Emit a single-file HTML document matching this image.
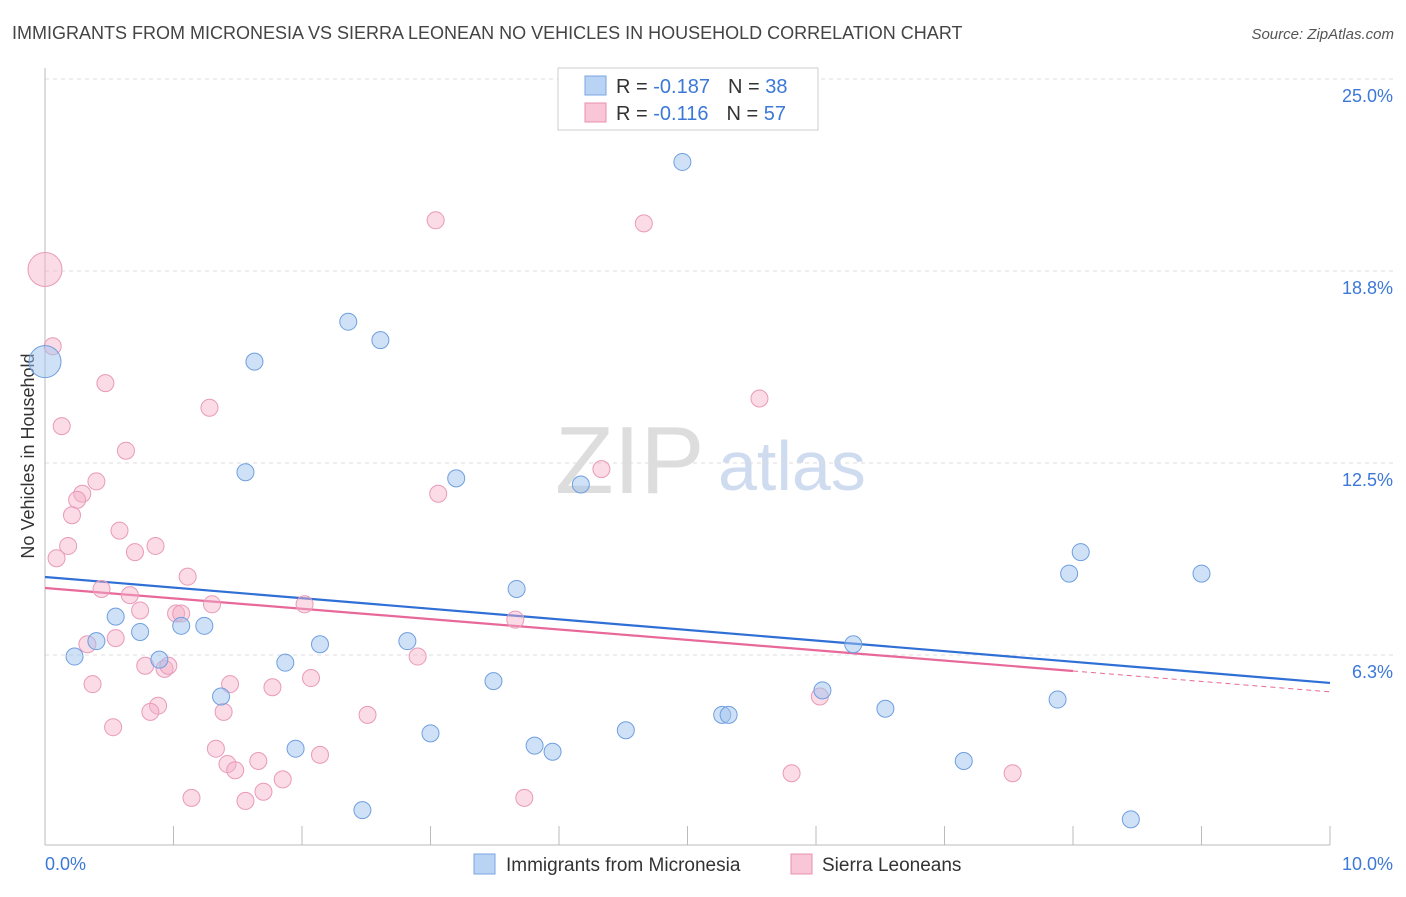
<!DOCTYPE html>
<html><head><meta charset="utf-8"><style>
body{margin:0;background:#fff;font-family:"Liberation Sans",sans-serif;}
svg text{font-family:"Liberation Sans",sans-serif;}
</style></head><body>
<svg id="chart" width="1406" height="892" xmlns="http://www.w3.org/2000/svg">
<text x="12" y="39" font-size="18" fill="#444">IMMIGRANTS FROM MICRONESIA VS SIERRA LEONEAN NO VEHICLES IN HOUSEHOLD CORRELATION CHART</text>
<text x="1394" y="39" font-size="15" fill="#555" font-style="italic" text-anchor="end">Source: ZipAtlas.com</text>
<text x="34" y="456" font-size="18" fill="#333" text-anchor="middle" transform="rotate(-90 34 456)">No Vehicles in Household</text>
<text x="555" y="493" font-size="96" fill="#ddd" font-family="Liberation Serif">ZIP</text>
<text x="718" y="490" font-size="70" fill="#cfdcf0">atlas</text>
<g id="grid"></g><g id="axes"></g><g id="trends"></g><g id="pts"></g>
<g>
<rect x="558" y="68" width="260" height="62" fill="#fff" stroke="#ccc"/>
<rect x="585" y="76" width="21" height="19" fill="#b9d3f5" stroke="#7aa6e0"/>
<text x="616" y="93" font-size="20" fill="#333">R = <tspan fill="#3b78d8">-0.187</tspan><tspan dx="18">N = </tspan><tspan fill="#3b78d8">38</tspan></text>
<rect x="585" y="103" width="21" height="19" fill="#f8c6d6" stroke="#e890b0"/>
<text x="616" y="120" font-size="20" fill="#333">R = <tspan fill="#3b78d8"> -0.116</tspan><tspan dx="18">N = </tspan><tspan fill="#3b78d8">57</tspan></text>
</g>
<g>
<rect x="474" y="854" width="21" height="20" fill="#b9d3f5" stroke="#7aa6e0"/>
<text x="506" y="871" font-size="19" fill="#333">Immigrants from Micronesia</text>
<rect x="791" y="854" width="21" height="20" fill="#f8c6d6" stroke="#e890b0"/>
<text x="822" y="871" font-size="19" fill="#333">Sierra Leoneans</text>
</g>
</svg>
<script>
const yTicks=[6.25,12.5,18.75,25];
const yTickLabels=["6.3%","12.5%","18.8%","25.0%"];
const blueX=[4.96,2.36,2.61,1.63,0,1.56,3.2,4.17,8.06,7.97,9.0,3.67,0.55,1.06,1.24,0.74,0.40,2.14,2.82,0.23,0.89,1.87,6.29,3.49,6.05,1.37,7.88,6.54,5.27,5.32,3.0,4.52,1.95,3.81,3.95,7.15,2.47,8.45];
const blueY=[22.3,17.1,16.5,15.8,15.8,12.2,12.0,11.8,9.6,8.9,8.9,8.4,7.5,7.2,7.2,7.0,6.7,6.6,6.7,6.2,6.1,6.0,6.6,5.4,5.1,4.9,4.8,4.5,4.3,4.3,3.7,3.8,3.2,3.3,3.1,2.8,1.2,0.9];
const pinkX=[0,3.04,4.66,0.06,0.47,1.28,5.56,0.13,0.63,4.33,0.40,0.29,0.25,0.21,3.06,0.58,0.18,0.09,0.70,0.86,1.11,0.44,0.66,1.3,0.74,1.02,1.06,2.02,3.66,0.33,0.55,0.78,0.93,0.96,2.9,2.07,0.37,1.44,1.77,0.88,0.82,1.39,0.53,2.51,6.03,1.33,1.42,1.48,1.66,2.14,1.85,1.7,1.14,1.56,3.73,5.81,7.53];
const pinkY=[18.8,20.4,20.3,16.3,15.1,14.3,14.6,13.7,12.9,12.3,11.9,11.5,11.3,10.8,11.5,10.3,9.8,9.4,9.6,9.8,8.8,8.4,8.2,7.9,7.7,7.6,7.6,7.9,7.4,6.6,6.8,5.9,5.8,5.9,6.2,5.5,5.3,5.3,5.2,4.6,4.4,4.4,3.9,4.3,4.9,3.2,2.7,2.5,2.8,3.0,2.2,1.8,1.6,1.5,1.6,2.4,2.4];
const blueTrend=[8.79,5.34];
const pinkTrend=[8.43,5.73,5.05];
const pinkSolidEnd=8.0;
const X=v=>45+v/10*1285, Y=v=>847-v/25*768;
const NS="http://www.w3.org/2000/svg";
function mk(p,t,a){const e=document.createElementNS(NS,t);for(const k in a)e.setAttribute(k,a[k]);p.appendChild(e);return e;}
const grid=document.getElementById('grid'),axes=document.getElementById('axes');
yTicks.forEach((t,i)=>{
 const l=mk(grid,'line',{x1:45,x2:1394,y1:Y(t),y2:Y(t),stroke:'#ddd','stroke-dasharray':'4 4'});
 
 
 const tx=mk(grid,'text',{x:1393,y:Y(t)+23,'font-size':18,fill:'#3b78d8','text-anchor':'end'});
 tx.textContent=yTickLabels[i];
 
 
});
mk(axes,'line',{x1:45,x2:45,y1:68,y2:845,stroke:'#bbb'});
mk(axes,'line',{x1:45,x2:1330,y1:845,y2:845,stroke:'#bbb'});
for(let i=1;i<=10;i++){mk(axes,'line',{x1:X(i),x2:X(i),y1:826,y2:845,stroke:'#bbb'});}
[[0,"0.0%",'start',45],[10,"10.0%",'end',1393]].forEach(a=>{const t=mk(axes,'text',{x:a[3],y:870,'font-size':18,fill:'#3b78d8','text-anchor':a[2]});t.textContent=a[1];
 
 });
const tr=document.getElementById('trends');
const bl=mk(tr,'line',{x1:X(0),y1:Y(blueTrend[0]),x2:X(10),y2:Y(blueTrend[1]),stroke:'#2f6fd6','stroke-width':2.2});


const pl=mk(tr,'line',{x1:X(0),y1:Y(pinkTrend[0]),x2:X(pinkSolidEnd),y2:Y(pinkTrend[1]),stroke:'#e8689a','stroke-width':2.2});


const pd=mk(tr,'line',{x1:X(pinkSolidEnd),y1:Y(pinkTrend[1]),x2:X(10),y2:Y(pinkTrend[2]),stroke:'#e8689a','stroke-width':1,'stroke-dasharray':'5 4'});


const pts=document.getElementById('pts');
pinkX.forEach((x,i)=>{const c=mk(pts,'circle',{cx:X(x),cy:Y(pinkY[i]),r:i==0?17:8.5,fill:'rgba(244,176,200,0.45)',stroke:'#e99ab8','stroke-width':1});
 
 });
blueX.forEach((x,i)=>{const c=mk(pts,'circle',{cx:X(x),cy:Y(blueY[i]),r:i==4?16:8.5,fill:'rgba(160,196,240,0.5)',stroke:'#6f9fdf','stroke-width':1});
 
 });
</script>
</body></html>
